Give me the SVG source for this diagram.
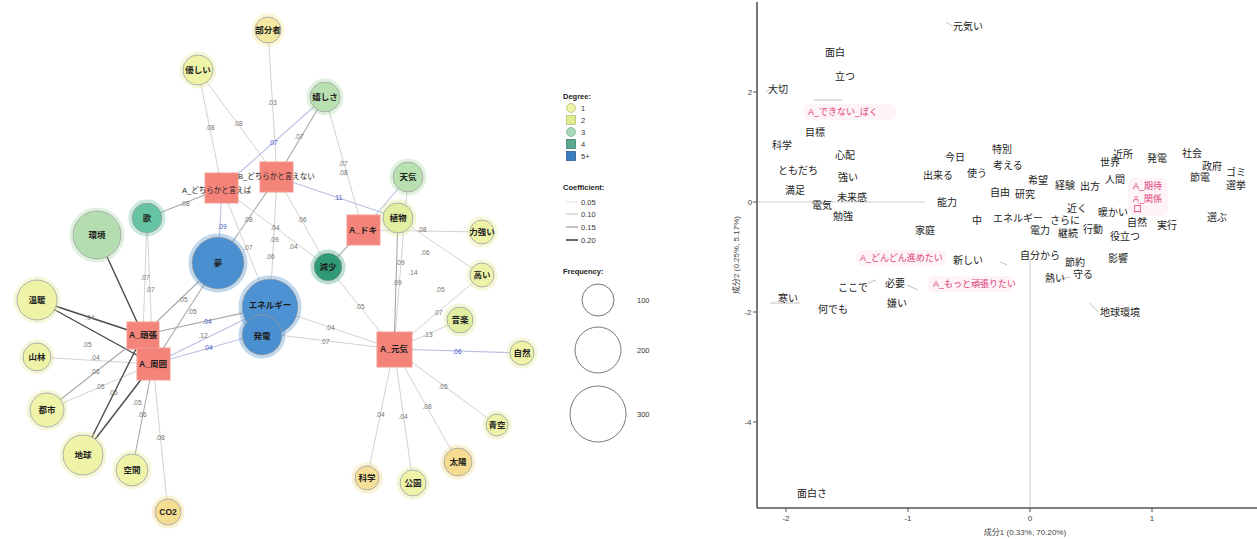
<svg xmlns="http://www.w3.org/2000/svg" width="1257" height="539" viewBox="0 0 1257 539">
<style>
  text { font-family: "Liberation Sans", "Noto Sans CJK JP", sans-serif; }
  .e1 { stroke: #d2d2d2; stroke-width: 1; fill: none; }
  .e2 { stroke: #a8a8a8; stroke-width: 1.1; fill: none; }
  .e3 { stroke: #4a4a4a; stroke-width: 1.4; fill: none; }
  .eb { stroke: #b8c0e2; stroke-width: 1.1; fill: none; }
  .el { font-size: 6.5px; fill: #707070; text-anchor: middle; }
  .elb { font-size: 6.5px; fill: #3a52c0; text-anchor: middle; }
  .nl { font-size: 8.5px; fill: #1e1e1e; text-anchor: middle; font-weight: bold; }
  .vl { font-size: 7.5px; fill: #1e1e1e; }
  .sq { fill: #f4847a; stroke: #f19a90; stroke-width: 1; }
  .halo { fill: none; stroke-width: 3; stroke-opacity: 0.35; }
  .ring { stroke: #9a9a9a; stroke-width: 0.8; }
  .lg { font-size: 7.5px; fill: #333; }
  .lgh { font-size: 7.5px; fill: #222; font-weight: bold; }
  .ax { stroke: #555; stroke-width: 1.6; }
  .ref { stroke: #cfcfcf; stroke-width: 1; }
  .tk { font-size: 8px; fill: #444; text-anchor: middle; }
  .sl { font-size: 10px; fill: #222; }
  .sp { font-size: 9px; fill: #e0407a; }
  .hz { fill: #fce4ec; opacity: 0.45; }
  .ld { stroke: #b0b0b0; stroke-width: 0.8; }
</style>

<!-- ================= co-occurrence network ================= -->
<g id="connectors">
  <line class="e1" x1="268" y1="30" x2="277" y2="177"/>
  <line class="e1" x1="198" y1="70" x2="222" y2="188"/>
  <line class="e1" x1="198" y1="70" x2="277" y2="177"/>
  <line class="eb" x1="325" y1="97" x2="222" y2="188"/>
  <line class="e2" x1="325" y1="97" x2="277" y2="177"/>
  <line class="e1" x1="325" y1="97" x2="363" y2="230"/>
  <line class="e2" x1="147" y1="218" x2="222" y2="188"/>
  <line class="eb" x1="218" y1="263" x2="222" y2="188"/>
  <line class="e2" x1="218" y1="263" x2="277" y2="177"/>
  <line class="eb" x1="277" y1="177" x2="398" y2="218"/>
  <line class="e1" x1="277" y1="177" x2="270" y2="307"/>
  <line class="e1" x1="277" y1="177" x2="328" y2="267"/>
  <line class="e1" x1="222" y1="188" x2="270" y2="307"/>
  <line class="e1" x1="222" y1="188" x2="328" y2="267"/>
  <line class="eb" x1="408" y1="177" x2="363" y2="230"/>
  <line class="e1" x1="408" y1="177" x2="394" y2="349"/>
  <line class="e2" x1="398" y1="218" x2="394" y2="349"/>
  <line class="e1" x1="363" y1="230" x2="482" y2="232"/>
  <line class="e1" x1="398" y1="218" x2="482" y2="275"/>
  <line class="e2" x1="363" y1="230" x2="328" y2="267"/>
  <line class="e1" x1="394" y1="349" x2="482" y2="275"/>
  <line class="e1" x1="394" y1="349" x2="460" y2="320"/>
  <line class="eb" x1="394" y1="349" x2="522" y2="353"/>
  <line class="e1" x1="394" y1="349" x2="497" y2="425"/>
  <line class="e1" x1="394" y1="349" x2="458" y2="462"/>
  <line class="e1" x1="394" y1="349" x2="413" y2="483"/>
  <line class="e1" x1="394" y1="349" x2="367" y2="478"/>
  <line class="e1" x1="394" y1="349" x2="328" y2="267"/>
  <line class="e1" x1="394" y1="349" x2="270" y2="307"/>
  <line class="e1" x1="394" y1="349" x2="262" y2="333"/>
  <line class="e2" x1="143" y1="335" x2="218" y2="263"/>
  <line class="e2" x1="153" y1="364" x2="218" y2="263"/>
  <line class="e2" x1="143" y1="335" x2="270" y2="307"/>
  <line class="eb" x1="153" y1="364" x2="270" y2="307"/>
  <line class="eb" x1="153" y1="364" x2="262" y2="333"/>
  <line class="e3" x1="97" y1="235" x2="143" y2="335"/>
  <line class="e1" x1="147" y1="218" x2="143" y2="335"/>
  <line class="e1" x1="147" y1="218" x2="153" y2="364"/>
  <line class="e3" x1="37" y1="300" x2="143" y2="335"/>
  <line class="e3" x1="37" y1="300" x2="153" y2="364"/>
  <line class="e1" x1="37" y1="357" x2="153" y2="364"/>
  <line class="e2" x1="47" y1="410" x2="143" y2="335"/>
  <line class="e1" x1="47" y1="410" x2="153" y2="364"/>
  <line class="e3" x1="83" y1="455" x2="143" y2="335"/>
  <line class="e3" x1="83" y1="455" x2="153" y2="364"/>
  <line class="e2" x1="132" y1="470" x2="153" y2="364"/>
  <line class="e1" x1="168" y1="512" x2="153" y2="364"/>

  <!-- coefficient labels -->
  <text class="el" x="272" y="105">.03</text>
  <text class="el" x="210" y="130">.08</text>
  <text class="el" x="238" y="126">.08</text>
  <text class="elb" x="273" y="145">.07</text>
  <text class="el" x="299" y="139">.07</text>
  <text class="el" x="343" y="166">.07</text>
  <text class="el" x="343" y="175">.08</text>
  <text class="el" x="185" y="206">.08</text>
  <text class="elb" x="222" y="229">.09</text>
  <text class="el" x="248" y="222">.08</text>
  <text class="elb" x="338" y="200">.11</text>
  <text class="el" x="275" y="230">.04</text>
  <text class="el" x="302" y="222">.06</text>
  <text class="el" x="274" y="242">.09</text>
  <text class="el" x="293" y="249">.04</text>
  <text class="el" x="248" y="250">.07</text>
  <text class="el" x="270" y="259">.06</text>
  <text class="el" x="422" y="232">.08</text>
  <text class="el" x="425" y="255">.06</text>
  <text class="el" x="400" y="265">.09</text>
  <text class="el" x="413" y="275">.14</text>
  <text class="el" x="397" y="285">.09</text>
  <text class="el" x="440" y="292">.05</text>
  <text class="el" x="438" y="315">.07</text>
  <text class="el" x="428" y="337">.13</text>
  <text class="elb" x="457" y="354">.06</text>
  <text class="el" x="443" y="389">.05</text>
  <text class="el" x="427" y="409">.08</text>
  <text class="el" x="380" y="417">.04</text>
  <text class="el" x="403" y="419">.04</text>
  <text class="el" x="360" y="309">.05</text>
  <text class="el" x="330" y="330">.04</text>
  <text class="el" x="325" y="344">.07</text>
  <text class="el" x="145" y="280">.07</text>
  <text class="el" x="150" y="292">.07</text>
  <text class="el" x="183" y="302">.05</text>
  <text class="el" x="192" y="314">.05</text>
  <text class="elb" x="207" y="324">.04</text>
  <text class="el" x="203" y="338">.12</text>
  <text class="elb" x="208" y="350">.04</text>
  <text class="el" x="90" y="320">.04</text>
  <text class="el" x="87" y="347">.05</text>
  <text class="el" x="95" y="360">.04</text>
  <text class="el" x="95" y="374">.06</text>
  <text class="el" x="100" y="389">.05</text>
  <text class="el" x="113" y="395">.05</text>
  <text class="el" x="137" y="405">.05</text>
  <text class="el" x="142" y="417">.06</text>
  <text class="el" x="160" y="440">.08</text>
</g>

<!-- word nodes (circles) -->
<g id="n-bubunsha"><circle class="halo" cx="268" cy="30" r="15" stroke="#f0e48a"/><circle class="ring" cx="268" cy="30" r="13" fill="#f3e9a0"/><text class="nl" x="268" y="33">部分者</text></g>
<g id="n-yasashii"><circle class="halo" cx="198" cy="70" r="17" stroke="#e2ec90"/><circle class="ring" cx="198" cy="70" r="15" fill="#eef3a8"/><text class="nl" x="198" y="73">優しい</text></g>
<g id="n-ureshisa"><circle class="halo" cx="325" cy="97" r="17" stroke="#a5d8a5"/><circle class="ring" cx="325" cy="97" r="15" fill="#b8e0b0"/><text class="nl" x="325" y="100">嬉しさ</text></g>
<g id="n-uta"><circle class="halo" cx="147" cy="218" r="17" stroke="#5ec0a0"/><circle class="ring" cx="147" cy="218" r="15" fill="#66c4a2"/><text class="nl" x="147" y="221">歌</text></g>
<g id="n-kankyo"><circle class="halo" cx="97" cy="235" r="26" stroke="#a5d8a5"/><circle class="ring" cx="97" cy="235" r="24" fill="#b5deb0"/><text class="nl" x="97" y="238">環境</text></g>
<g id="n-yume"><circle class="halo" cx="218" cy="263" r="28" stroke="#4a8fcf"/><circle class="ring" cx="218" cy="263" r="26" fill="#4a8fcf"/><text class="nl" x="218" y="266">夢</text></g>
<g id="n-energy"><circle class="halo" cx="270" cy="307" r="30" stroke="#4a8fcf"/><circle class="ring" cx="270" cy="307" r="28" fill="#4d92d2"/><text class="nl" x="270" y="308">エネルギー</text></g>
<g id="n-hatsuden"><circle class="halo" cx="262" cy="335" r="22" stroke="#4a8fcf"/><circle class="ring" cx="262" cy="335" r="20" fill="#4a8fcf"/><text class="nl" x="262" y="339">発電</text></g>
<g id="n-tenki"><circle class="halo" cx="408" cy="177" r="17" stroke="#a5d8a5"/><circle class="ring" cx="408" cy="177" r="15" fill="#b8e0b0"/><text class="nl" x="408" y="180">天気</text></g>
<g id="n-shokubutsu"><circle class="halo" cx="398" cy="218" r="17" stroke="#dbe88a"/><circle class="ring" cx="398" cy="218" r="15" fill="#e2eea0"/><text class="nl" x="398" y="221">植物</text></g>
<g id="n-genshou"><circle class="halo" cx="328" cy="267" r="16" stroke="#3aa582"/><circle class="ring" cx="328" cy="267" r="14" fill="#2f9a78"/><text class="nl" x="328" y="270">減少</text></g>
<g id="n-chikarazuyoi"><circle class="halo" cx="482" cy="232" r="14" stroke="#e2ec90"/><circle class="ring" cx="482" cy="232" r="12" fill="#eef3a8"/><text class="nl" x="482" y="235">力強い</text></g>
<g id="n-takai"><circle class="halo" cx="482" cy="275" r="14" stroke="#e2ec90"/><circle class="ring" cx="482" cy="275" r="12" fill="#eef3a8"/><text class="nl" x="482" y="278">高い</text></g>
<g id="n-ongaku"><circle class="halo" cx="460" cy="320" r="15" stroke="#dbe88a"/><circle class="ring" cx="460" cy="320" r="13" fill="#e2eea0"/><text class="nl" x="460" y="323">音楽</text></g>
<g id="n-shizen"><circle class="halo" cx="522" cy="353" r="14" stroke="#e2ec90"/><circle class="ring" cx="522" cy="353" r="12" fill="#eef3a8"/><text class="nl" x="522" y="356">自然</text></g>
<g id="n-aozora"><circle class="halo" cx="497" cy="425" r="13" stroke="#e2ec90"/><circle class="ring" cx="497" cy="425" r="11" fill="#eef3a8"/><text class="nl" x="497" y="428">青空</text></g>
<g id="n-taiyou"><circle class="halo" cx="458" cy="462" r="16" stroke="#f0d880"/><circle class="ring" cx="458" cy="462" r="14" fill="#f5dc90"/><text class="nl" x="458" y="465">太陽</text></g>
<g id="n-kouen"><circle class="halo" cx="413" cy="483" r="15" stroke="#e2ec90"/><circle class="ring" cx="413" cy="483" r="13" fill="#eef3a8"/><text class="nl" x="413" y="486">公園</text></g>
<g id="n-kagaku"><circle class="halo" cx="367" cy="478" r="14" stroke="#f0d880"/><circle class="ring" cx="367" cy="478" r="12" fill="#f3df95"/><text class="nl" x="367" y="481">科学</text></g>
<g id="n-ondan"><circle class="halo" cx="37" cy="300" r="22" stroke="#e2ec90"/><circle class="ring" cx="37" cy="300" r="20" fill="#eef3a8"/><text class="nl" x="37" y="303">温暖</text></g>
<g id="n-sanrin"><circle class="halo" cx="37" cy="357" r="16" stroke="#e2ec90"/><circle class="ring" cx="37" cy="357" r="14" fill="#eef3a8"/><text class="nl" x="37" y="360">山林</text></g>
<g id="n-toshi"><circle class="halo" cx="47" cy="410" r="19" stroke="#e2ec90"/><circle class="ring" cx="47" cy="410" r="17" fill="#eef3a8"/><text class="nl" x="47" y="413">都市</text></g>
<g id="n-chikyu"><circle class="halo" cx="83" cy="455" r="22" stroke="#e2ec90"/><circle class="ring" cx="83" cy="455" r="20" fill="#eef3a8"/><text class="nl" x="83" y="458">地球</text></g>
<g id="n-kukan"><circle class="halo" cx="132" cy="470" r="18" stroke="#e2ec90"/><circle class="ring" cx="132" cy="470" r="16" fill="#eef3a8"/><text class="nl" x="132" y="473">空間</text></g>
<g id="n-co2"><circle class="halo" cx="168" cy="512" r="15" stroke="#f0d880"/><circle class="ring" cx="168" cy="512" r="13" fill="#f5dc90"/><text class="nl" x="168" y="515">CO2</text></g>

<!-- variable nodes (squares) -->
<g id="v-a-dochira"><rect class="sq" x="205" y="173" width="33" height="30"/><text class="vl" x="182" y="193">A_どちらかと言えば</text></g>
<g id="v-b-dochira"><rect class="sq" x="260" y="162" width="33" height="30"/><text class="vl" x="238" y="179">B_どちらかと言えない</text></g>
<g id="v-a-doki"><rect class="sq" x="347" y="215" width="33" height="30"/><text class="nl" x="363" y="233">A_ドキ</text></g>
<g id="v-a-ganbari"><rect class="sq" x="127" y="322" width="32" height="27"/><text class="nl" x="143" y="338">A_頑張</text></g>
<g id="v-a-shuui"><rect class="sq" x="137" y="348" width="33" height="32"/><text class="nl" x="153" y="367">A_周囲</text></g>
<g id="v-a-genki"><rect class="sq" x="377" y="332" width="35" height="35"/><text class="nl" x="394" y="352">A_元気</text></g>

<!-- legend -->
<g id="legend">
  <text class="lgh" x="563" y="99">Degree:</text>
  <circle cx="571" cy="108" r="4.5" fill="#eef3a8" stroke="#b8c070" stroke-width="0.8"/><text class="lg" x="581" y="111">1</text>
  <rect x="566.5" y="115.5" width="9" height="9" fill="#e0ec90" stroke="#b8c070" stroke-width="0.8"/><text class="lg" x="581" y="123">2</text>
  <circle cx="571" cy="132" r="4.5" fill="#a8d8b8" stroke="#80b090" stroke-width="0.8"/><text class="lg" x="581" y="135">3</text>
  <rect x="566.5" y="139.5" width="9" height="9" fill="#5aa890" stroke="#408070" stroke-width="0.8"/><text class="lg" x="581" y="147">4</text>
  <rect x="566.5" y="151.5" width="9" height="9" fill="#3a7cc0" stroke="#2a5c90" stroke-width="0.8"/><text class="lg" x="581" y="159">5+</text>
  <text class="lgh" x="563" y="190">Coefficient:</text>
  <line x1="566" y1="202" x2="578" y2="202" stroke="#e0e0e0" stroke-width="1"/><text class="lg" x="581" y="205">0.05</text>
  <line x1="566" y1="214" x2="578" y2="214" stroke="#c8c8c8" stroke-width="1.2"/><text class="lg" x="581" y="217">0.10</text>
  <line x1="566" y1="227" x2="578" y2="227" stroke="#a8a8a8" stroke-width="1.4"/><text class="lg" x="581" y="230">0.15</text>
  <line x1="566" y1="240" x2="578" y2="240" stroke="#444" stroke-width="1.6"/><text class="lg" x="581" y="243">0.20</text>
  <text class="lgh" x="563" y="274">Frequency:</text>
  <circle cx="598" cy="300" r="16" fill="none" stroke="#777" stroke-width="1"/><text class="lg" x="637" y="303">100</text>
  <circle cx="598" cy="350" r="23" fill="none" stroke="#777" stroke-width="1"/><text class="lg" x="637" y="353">200</text>
  <circle cx="598" cy="414" r="28" fill="none" stroke="#777" stroke-width="1"/><text class="lg" x="637" y="417">300</text>
</g>

<!-- ================= correspondence analysis plot ================= -->
<g id="ca-axes">
  <line class="ref" x1="757" y1="202" x2="925" y2="202"/>
  <line class="ref" x1="1030" y1="258" x2="1030" y2="508"/>
  <line class="ax" x1="757" y1="2" x2="757" y2="508"/>
  <line class="ax" x1="757" y1="508" x2="1257" y2="508"/>
  <g stroke="#555" stroke-width="1">
    <line x1="753" y1="92" x2="757" y2="92"/><line x1="753" y1="202" x2="757" y2="202"/>
    <line x1="753" y1="312" x2="757" y2="312"/><line x1="753" y1="422" x2="757" y2="422"/>
    <line x1="786" y1="508" x2="786" y2="512"/><line x1="908" y1="508" x2="908" y2="512"/>
    <line x1="1030" y1="508" x2="1030" y2="512"/><line x1="1152" y1="508" x2="1152" y2="512"/>
  </g>
  <text class="tk" x="750" y="95">2</text>
  <text class="tk" x="750" y="205">0</text>
  <text class="tk" x="748" y="315">-2</text>
  <text class="tk" x="748" y="425">-4</text>
  <text class="tk" x="786" y="521">-2</text>
  <text class="tk" x="908" y="521">-1</text>
  <text class="tk" x="1030" y="521">0</text>
  <text class="tk" x="1152" y="521">1</text>
  <text class="tk" x="1025" y="535" font-size="8.5">成分1 (0.33%, 70.20%)</text>
  <text class="tk" x="0" y="0" font-size="8.5" transform="translate(739 255) rotate(-90)">成分2 (0.25%, 5.17%)</text>
</g>

<!-- soft highlight behind the variable labels -->
<g id="ca-haze">
  <rect class="hz" x="804" y="104" width="92" height="16" rx="6"/>
  <rect class="hz" x="856" y="250" width="90" height="16" rx="6"/>
  <rect class="hz" x="928" y="276" width="86" height="16" rx="6"/>
  <rect class="hz" x="1128" y="178" width="40" height="38" rx="8"/>
</g>

<g id="ca-leaders">
  <line class="ld" x1="946" y1="22" x2="952" y2="26"/>
  <line class="ld" x1="772" y1="88" x2="766" y2="92"/>
  <line class="ld" x1="1090" y1="303" x2="1098" y2="312"/>
  <line class="ld" x1="814" y1="100" x2="842" y2="100" stroke="#9ee0d0"/>
  <line class="ld" x1="1060" y1="279" x2="1070" y2="277"/>
  <line class="ld" x1="1000" y1="262" x2="1007" y2="265" stroke="#9ee0d0"/>
  <line class="ld" x1="907" y1="285" x2="918" y2="290"/>
  <line class="ld" x1="868" y1="283" x2="876" y2="280" stroke="#9ee0d0"/>
  <line class="ld" x1="770" y1="303" x2="800" y2="303"/>
</g>

<g id="ca-labels">
  <text class="sl" x="953" y="30">元気い</text>
  <text class="sl" x="825" y="56">面白</text>
  <text class="sl" x="835" y="80">立つ</text>
  <text class="sl" x="768" y="93">大切</text>
  <text class="sp" x="808" y="115">A_できない_ぼく</text>
  <text class="sl" x="805" y="136">目標</text>
  <text class="sl" x="772" y="149">科学</text>
  <text class="sl" x="835" y="159">心配</text>
  <text class="sl" x="778" y="174">ともだち</text>
  <text class="sl" x="838" y="181">強い</text>
  <text class="sl" x="785" y="194">満足</text>
  <text class="sl" x="837" y="201">未来感</text>
  <text class="sl" x="812" y="209">電気</text>
  <text class="sl" x="833" y="220">勉強</text>
  <text class="sl" x="915" y="234">家庭</text>
  <text class="sl" x="945" y="161">今日</text>
  <text class="sl" x="923" y="179">出来る</text>
  <text class="sl" x="967" y="177">使う</text>
  <text class="sl" x="937" y="206">能力</text>
  <text class="sl" x="972" y="224">中</text>
  <text class="sl" x="992" y="153">特別</text>
  <text class="sl" x="993" y="169">考える</text>
  <text class="sl" x="990" y="196">自由</text>
  <text class="sl" x="1015" y="198">研究</text>
  <text class="sl" x="1028" y="184">希望</text>
  <text class="sl" x="1055" y="189">経験</text>
  <text class="sl" x="1080" y="190">出方</text>
  <text class="sl" x="993" y="222">エネルギー</text>
  <text class="sl" x="1050" y="224">さらに</text>
  <text class="sl" x="1067" y="212">近く</text>
  <text class="sl" x="1030" y="234">電力</text>
  <text class="sl" x="1058" y="237">継続</text>
  <text class="sl" x="1083" y="233">行動</text>
  <text class="sl" x="1020" y="259">自分から</text>
  <text class="sl" x="1065" y="266">節約</text>
  <text class="sl" x="1108" y="262">影響</text>
  <text class="sl" x="1045" y="282">熱い</text>
  <text class="sl" x="1073" y="278">守る</text>
  <text class="sl" x="1100" y="316">地球環境</text>
  <text class="sl" x="1100" y="166">世界</text>
  <text class="sl" x="1105" y="183">人間</text>
  <text class="sl" x="1113" y="158">近所</text>
  <text class="sl" x="1147" y="162">発電</text>
  <text class="sl" x="1182" y="157">社会</text>
  <text class="sl" x="1202" y="170">政府</text>
  <text class="sl" x="1190" y="181">節電</text>
  <text class="sl" x="1226" y="176">ゴミ</text>
  <text class="sl" x="1226" y="189">選挙</text>
  <text class="sp" x="1133" y="189">A_期待</text>
  <text class="sp" x="1133" y="202">A_関係</text>
  <text class="sp" x="1133" y="212">口</text>
  <text class="sl" x="1207" y="221">選ぶ</text>
  <text class="sl" x="1098" y="216">暖かい</text>
  <text class="sl" x="1127" y="226">自然</text>
  <text class="sl" x="1157" y="229">実行</text>
  <text class="sl" x="1110" y="240">役立つ</text>
  <text class="sp" x="860" y="261">A_どんどん進めたい</text>
  <text class="sl" x="953" y="264">新しい</text>
  <text class="sl" x="838" y="291">ここで</text>
  <text class="sl" x="885" y="287">必要</text>
  <text class="sp" x="933" y="287">A_もっと頑張りたい</text>
  <text class="sl" x="778" y="302">寒い</text>
  <text class="sl" x="818" y="313">何でも</text>
  <text class="sl" x="887" y="307">嫌い</text>
  <text class="sl" x="797" y="497">面白さ</text>
</g>
</svg>
